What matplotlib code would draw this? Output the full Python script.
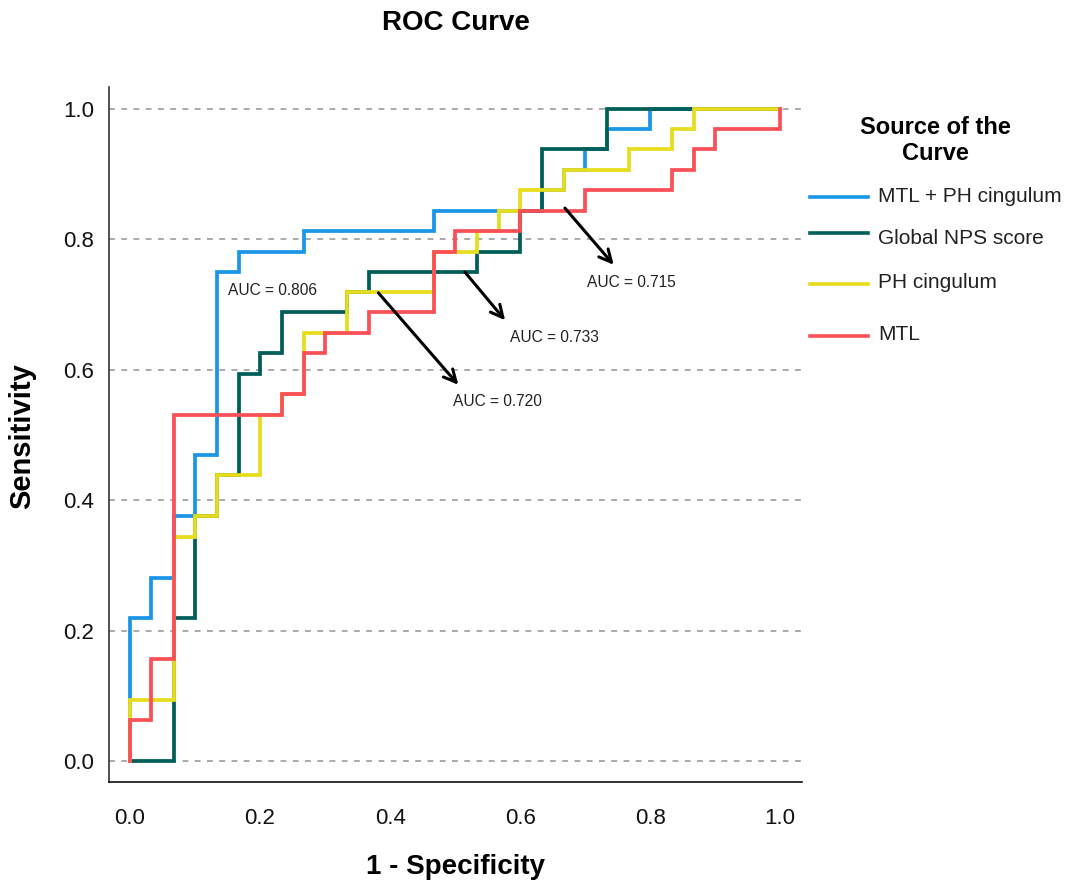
import matplotlib
matplotlib.use('Agg')
import matplotlib.pyplot as plt
from matplotlib.lines import Line2D

plt.rcParams['font.family'] = ['Liberation Sans', 'DejaVu Sans']

# ROC coordinates (1 - specificity, sensitivity), corner by corner
combo_fpr = [0, 0, .033, .033, .067, .067, .100, .100, .133, .133, .167, .167, .267, .267,
             .467, .467, .633, .633, .667, .667, .700, .700, .733, .733, .800, .800, 1]
combo_tpr = [0, .219, .219, .281, .281, .375, .375, .469, .469, .750, .750, .781, .781, .813,
             .813, .844, .844, .875, .875, .906, .906, .938, .938, .969, .969, 1, 1]

nps_fpr = [0, .067, .067, .100, .100, .133, .133, .167, .167, .200, .200, .233, .233,
           .333, .333, .367, .367, .533, .533, .600, .600, .633, .633, .733, .733, 1]
nps_tpr = [0, 0, .219, .219, .375, .375, .438, .438, .594, .594, .625, .625, .688,
           .688, .719, .719, .750, .750, .781, .781, .844, .844, .938, .938, 1, 1]

ph_fpr = [0, 0, .067, .067, .100, .100, .133, .133, .200, .200, .233, .233, .267, .267,
          .333, .333, .467, .467, .533, .533, .567, .567, .600, .600, .667, .667, .767,
          .767, .833, .833, .867, .867, 1]
ph_tpr = [0, .094, .094, .344, .344, .375, .375, .438, .438, .531, .531, .563, .563, .656,
          .656, .719, .719, .781, .781, .813, .813, .844, .844, .875, .875, .906, .906,
          .938, .938, .969, .969, 1, 1]

mtl_fpr = [0, 0, .033, .033, .067, .067, .233, .233, .267, .267, .300, .300, .367, .367,
           .467, .467, .500, .500, .600, .600, .700, .700, .833, .833, .867, .867, .900,
           .900, 1, 1]
mtl_tpr = [0, .063, .063, .156, .156, .531, .531, .563, .563, .625, .625, .656, .656, .688,
           .688, .781, .781, .813, .813, .844, .844, .875, .875, .906, .906, .938, .938,
           .969, .969, 1]

labels = ['MTL + PH cingulum', 'Global NPS score', 'PH cingulum', 'MTL']
colors = ['#1a96e6', '#005e59', '#e8dd1c', '#fb5058']
auc_text = ['AUC = 0.806', 'AUC = 0.733', 'AUC = 0.720', 'AUC = 0.715']

curves = [(combo_fpr, combo_tpr), (nps_fpr, nps_tpr), (ph_fpr, ph_tpr), (mtl_fpr, mtl_tpr)]

fig = plt.figure(figsize=(10.67, 8.86), dpi=100)
ax = fig.add_axes([0.1022, 0.1174, 0.6495, 0.7844])

for (fx, ty), c in zip(curves, colors):
    ax.plot(fx, ty, color=c, lw=2.7, solid_joinstyle='miter', zorder=3)

ax.set_xlim(-0.0323, 1.0338)
ax.set_ylim(-0.0322, 1.0337)
ax.set_xticks([0, 0.2, 0.4, 0.6, 0.8, 1.0])
ax.set_yticks([0, 0.2, 0.4, 0.6, 0.8, 1.0])
ax.set_xticklabels(['0.0', '0.2', '0.4', '0.6', '0.8', '1.0'])
ax.set_yticklabels(['0.0', '0.2', '0.4', '0.6', '0.8', '1.0'])
ax.tick_params(length=0, labelsize=16, labelcolor='#111111')
ax.tick_params(axis='x', pad=19)
ax.tick_params(axis='y', pad=11)

ax.yaxis.grid(True, color='#aaaaaa', lw=1.4, linestyle=(0, (3, 3.3)))
ax.set_axisbelow(True)
for side in ['top', 'right']:
    ax.spines[side].set_visible(False)
ax.spines['left'].set_color('#333333')
ax.spines['bottom'].set_color('#111111')
ax.spines['left'].set_linewidth(1.2)
ax.spines['bottom'].set_linewidth(1.2)

# AUC labels and arrows
ax.text(0.151, 0.722, auc_text[0], fontsize=11.2, va='center', ha='left', color='#222222')
arrows = [((0.382, 0.718), (0.505, 0.577), (0.497, 0.551), auc_text[2]),
          ((0.515, 0.750), (0.577, 0.676), (0.585, 0.650), auc_text[1]),
          ((0.669, 0.848), (0.744, 0.761), (0.703, 0.734), auc_text[3])]
for start, end, tpos, txt in arrows:
    ax.annotate('', xy=end, xytext=start,
                arrowprops=dict(arrowstyle='->', lw=2.2, color='black',
                                mutation_scale=22, shrinkA=0, shrinkB=0),
                zorder=5)
    ax.text(tpos[0], tpos[1], txt, fontsize=11.2, va='center', ha='left', color='#222222')

fig.text(455.5 / 1067, 1 - 23 / 886, 'ROC Curve', fontsize=20, fontweight='bold',
         ha='center', va='center')
fig.text(455.5 / 1067, 1 - 867 / 886, '1 - Specificity', fontsize=20, fontweight='bold',
         ha='center', va='center')
fig.text(22 / 1067, 1 - 436 / 886, 'Sensitivity', fontsize=21, fontweight='bold',
         ha='center', va='center', rotation=90)

# legend drawn by hand to keep the original spacing
fig.text(935 / 1067, 1 - 127 / 886, 'Source of the', fontsize=17, fontweight='bold',
         ha='center', va='center')
fig.text(935 / 1067, 1 - 153 / 886, 'Curve', fontsize=17, fontweight='bold',
         ha='center', va='center')
line_y = [197, 233, 284, 336]
text_y = [196, 238, 283, 335]
for lab, c, ly, ty in zip(labels, colors, line_y, text_y):
    fig.add_artist(Line2D([810 / 1067, 868 / 1067], [1 - ly / 886, 1 - ly / 886],
                          color=c, lw=2.6))
    fig.text(878 / 1067, 1 - ty / 886, lab, fontsize=15, ha='left', va='center',
             color='#222222')

fig.savefig('out.png', dpi=100)
